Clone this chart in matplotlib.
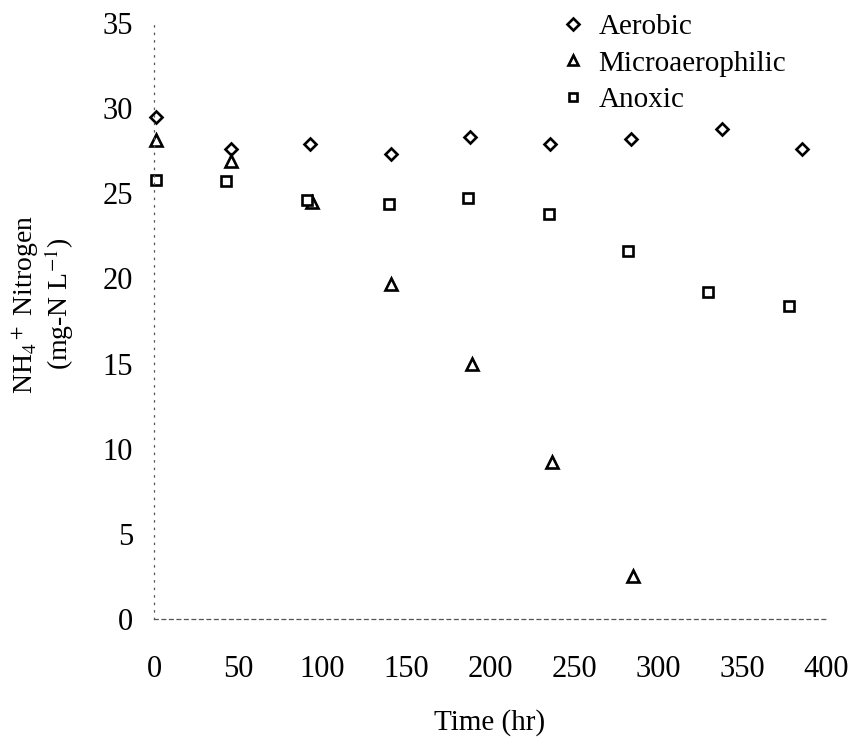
import matplotlib
matplotlib.use("Agg")
import matplotlib.pyplot as plt

plt.rcParams['font.family'] = ['Liberation Serif', 'DejaVu Serif']
plt.rcParams['mathtext.fontset'] = 'stix'

# Data
aerobic_t = [1, 46, 93, 141, 188, 236, 284, 338, 386]
aerobic_n = [29.5, 27.6, 27.9, 27.3, 28.3, 27.9, 28.2, 28.8, 27.6]

micro_t = [1, 46, 94, 141, 189, 237, 285]
micro_n = [28.1, 26.9, 24.5, 19.7, 15.0, 9.2, 2.5]

anoxic_t = [1, 43, 91, 140, 187, 235, 282, 330, 378]
anoxic_n = [25.8, 25.7, 24.6, 24.4, 24.7, 23.8, 21.6, 19.2, 18.4]

xticks = [0, 50, 100, 150, 200, 250, 300, 350, 400]
yticks = [0, 5, 10, 15, 20, 25, 30, 35]

fig = plt.figure(figsize=(8.52, 7.48), dpi=100)
ax = fig.add_axes([154/852, 1-619/748, 672/852, 596/748])

mew = 1.9
ax.plot(aerobic_t, aerobic_n, linestyle='none', marker='D', ms=6.4,
        mfc='white', mec='black', mew=mew, label='Aerobic', clip_on=False)
ax.plot(micro_t, micro_n, linestyle='none', marker='^', ms=8.3,
        mfc='white', mec='black', mew=mew, label='Microaerophilic', clip_on=False)
ax.plot(anoxic_t, anoxic_n, linestyle='none', marker='s', ms=6.6,
        mfc='white', mec='black', mew=mew, label='Anoxic', clip_on=False)

ax.set_xlim(0, 400)
ax.set_ylim(0, 35)
ax.set_xticks(xticks)
ax.set_yticks(yticks)
ax.tick_params(axis='both', length=0, labelsize=22)
ax.tick_params(axis='x', pad=26)
ax.tick_params(axis='y', pad=15)

for s in ['top', 'right']:
    ax.spines[s].set_visible(False)
ax.spines['left'].set_linestyle((0, (1, 5)))
ax.spines['left'].set_linewidth(0.9)
ax.spines['left'].set_color('#555555')
ax.spines['bottom'].set_linestyle((0, (3, 3)))
ax.spines['bottom'].set_linewidth(0.9)
ax.spines['bottom'].set_color('#555555')

leg = ax.legend(loc='upper left', bbox_to_anchor=((547-154)/672, 620/596),
                frameon=False, fontsize=21, handlelength=0.8,
                handletextpad=0.46, labelspacing=0.35, borderpad=0,
                markerscale=0.9)

fig.text(490/852, 1-723/748, 'Time (hr)', ha='center', va='center', fontsize=21)
fig.text(43/852, 1-304/748, 'NH$_4$$^+$ Nitrogen\n(mg-N L$^{-1}$)',
         rotation=90, ha='center', va='center', fontsize=20,
         multialignment='center', linespacing=1.05)

fig.savefig('out.png', dpi=100)
